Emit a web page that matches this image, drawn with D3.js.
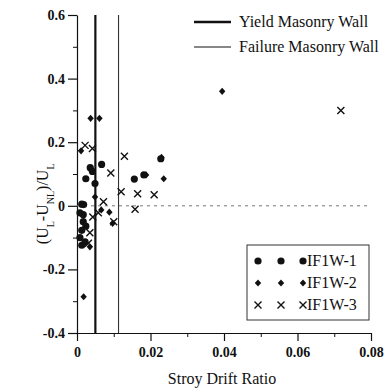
<!DOCTYPE html>
<html>
<head>
<meta charset="utf-8">
<script src="https://cdn.jsdelivr.net/npm/d3@7"></script>
<style>
  body { margin:0; background:#fff; }
  svg text { font-family:"Times New Roman", Times, "Liberation Serif", "DejaVu Serif", serif !important; fill:#111; }
</style>
</head>
<body>
<div id="chart"></div>
<script>
// series: [drift ratio, (UL-UNL)/UL]
const if1w1 = [
  [0.0067,0.130],[0.0036,0.120],[0.0042,0.108],[0.0024,0.085],[0.0049,0.070],
  [0.0013,0.005],[0.0018,0.004],[0.0008,-0.022],[0.0017,-0.028],[0.0017,-0.050],
  [0.0024,-0.064],[0.0013,-0.077],[0.0008,-0.100],[0.0022,-0.113],[0.0013,-0.124],
  [0.0156,0.084],[0.0182,0.097],[0.0228,0.148]
];
const if1w2 = [
  [0.0037,0.275],[0.0061,0.275],[0.0011,0.173],[0.0049,0.028],[0.0066,-0.013],
  [0.0088,-0.020],[0.0097,-0.055],[0.0035,-0.129],[0.0018,-0.286],[0.0188,0.097],
  [0.0236,0.085],[0.0395,0.360],[0.0230,0.152]
];
const if1w3 = [
  [0.0022,0.190],[0.0042,0.180],[0.0129,0.156],[0.0092,0.103],[0.0120,0.044],
  [0.0165,0.038],[0.0210,0.035],[0.0072,0.013],[0.0158,-0.011],[0.0058,-0.022],
  [0.0043,-0.035],[0.0100,-0.050],[0.0035,-0.085],[0.0031,-0.118],[0.0718,0.300]
];
const yieldDrift = 0.005, failureDrift = 0.0113;
const xTicks = [0, 0.02, 0.04, 0.06, 0.08];
const xMinor = [0.01, 0.03, 0.05, 0.07];
const yTicks = [-0.4, -0.2, 0, 0.2, 0.4, 0.6];
const yMinor = [-0.3, -0.1, 0.1, 0.3, 0.5];
const seriesNames = ["IF1W-1", "IF1W-2", "IF1W-3"];
const lineNames = ["Yield Masonry Wall", "Failure Masonry Wall"];

const W = 387, H = 388;
const margin = { top:15, right:16, bottom:55, left:77 };
const iw = W - margin.left - margin.right, ih = H - margin.top - margin.bottom;
const serif = "'Times New Roman', Times, 'Liberation Serif', 'DejaVu Serif', serif";

const svg = d3.select("#chart").append("svg").attr("width", W).attr("height", H)
  .attr("font-family", serif);
const g = svg.append("g").attr("transform", `translate(${margin.left},${margin.top})`);

const x = d3.scaleLinear().domain([0, 0.08]).range([0, iw]);
const y = d3.scaleLinear().domain([-0.4, 0.6]).range([ih, 0]);
const fmt = d => d === 0 ? "0" : String(+d.toFixed(2));

// minor ticks
g.append("g").attr("transform", `translate(0,${ih})`)
  .call(d3.axisBottom(x).tickValues(xMinor).tickSize(4).tickFormat("").tickSizeOuter(0))
  .call(a => a.select(".domain").remove());
g.append("g")
  .call(d3.axisLeft(y).tickValues(yMinor).tickSize(4).tickFormat("").tickSizeOuter(0))
  .call(a => a.select(".domain").remove());

// main axes
const xa = g.append("g").attr("transform", `translate(0,${ih})`)
  .call(d3.axisBottom(x).tickValues(xTicks).tickSize(8).tickSizeOuter(0).tickFormat(fmt));
const ya = g.append("g")
  .call(d3.axisLeft(y).tickValues(yTicks).tickSize(9).tickSizeOuter(0).tickFormat(fmt));
g.selectAll("g").attr("font-family", serif);
[xa, ya].forEach(a => {
  a.selectAll("path, line").attr("stroke", "#111").attr("stroke-width", 1.2);
  a.selectAll("text").style("font-size", "14px").style("font-weight", "bold")
    .style("font-family", serif).attr("fill", "#222");
});
xa.selectAll("text").attr("dy", "0.95em");
g.selectAll(".tick line").attr("stroke", "#111");

// zero reference
g.append("line").attr("x1", x(0)).attr("x2", x(0.08)).attr("y1", y(0)).attr("y2", y(0))
  .attr("stroke", "#777").attr("stroke-width", 1).attr("stroke-dasharray", "3,4");

// masonry wall lines
g.append("line").attr("x1", x(yieldDrift)).attr("x2", x(yieldDrift)).attr("y1", 0).attr("y2", ih)
  .attr("stroke", "#111").attr("stroke-width", 2.2);
g.append("line").attr("x1", x(failureDrift)).attr("x2", x(failureDrift)).attr("y1", 0).attr("y2", ih)
  .attr("stroke", "#333").attr("stroke-width", 1.1);

// markers
const diamondPath = (w, h) => `M0,${-h}L${w},0L0,${h}L${-w},0Z`;
const cross = s => `M${-s},${-s}L${s},${s}M${-s},${s}L${s},${-s}`;

function drawCircle(sel, cx, cy) {
  sel.append("circle").attr("cx", cx).attr("cy", cy).attr("r", 3.6).attr("fill", "#111");
}
function drawDiamond(sel, cx, cy) {
  sel.append("path").attr("d", diamondPath(3.2, 3.6)).attr("transform", `translate(${cx},${cy})`)
    .attr("fill", "#111");
}
function drawCross(sel, cx, cy) {
  sel.append("path").attr("d", cross(3.5)).attr("transform", `translate(${cx},${cy})`)
    .attr("stroke", "#111").attr("stroke-width", 1.4).attr("fill", "none");
}

const pts = g.append("g");
if1w1.forEach(d => drawCircle(pts, x(d[0]), y(d[1])));
if1w2.forEach(d => drawDiamond(pts, x(d[0]), y(d[1])));
if1w3.forEach(d => drawCross(pts, x(d[0]), y(d[1])));

// axis titles
svg.append("text").attr("x", margin.left + iw / 2 - 2).attr("y", 384).attr("text-anchor", "middle")
  .style("font-size", "16px").style("font-family", serif).text("Stroy Drift Ratio");
const yt = svg.append("text").attr("transform", `translate(48,${margin.top + y(0) - 2}) rotate(-90)`)
  .attr("text-anchor", "middle").style("font-size", "16px").style("font-family", serif);
yt.append("tspan").text("(U");
yt.append("tspan").attr("baseline-shift", "sub").style("font-size", "10px").text("L");
yt.append("tspan").text("-U");
yt.append("tspan").attr("baseline-shift", "sub").style("font-size", "10px").text("NL");
yt.append("tspan").text(")/U");
yt.append("tspan").attr("baseline-shift", "sub").style("font-size", "10px").text("L");

// top legend (wall lines)
const lg = svg.append("g");
lineNames.forEach((name, i) => {
  const ly = 22 + i * 25;
  lg.append("line").attr("x1", 194).attr("x2", 231).attr("y1", ly).attr("y2", ly)
    .attr("stroke", "#111").attr("stroke-width", i === 0 ? 2.4 : 1.1);
  lg.append("text").attr("x", 239).attr("y", ly + 5).style("font-size", "16px")
    .style("font-family", serif).text(name);
});

// series legend box
const box = svg.append("g");
box.append("rect").attr("x", 247).attr("y", 245).attr("width", 122).attr("height", 75)
  .attr("fill", "#fff").attr("stroke", "#333").attr("stroke-width", 1);
const drawers = [drawCircle, drawDiamond, drawCross];
seriesNames.forEach((name, i) => {
  const ry = 261 + i * 22;
  [258, 281, 303].forEach(mx => drawers[i](box, mx, ry));
  box.append("text").attr("x", 307).attr("y", ry + 5).style("font-size", "16px")
    .style("font-family", serif).text(name);
});
</script>
</body>
</html>
